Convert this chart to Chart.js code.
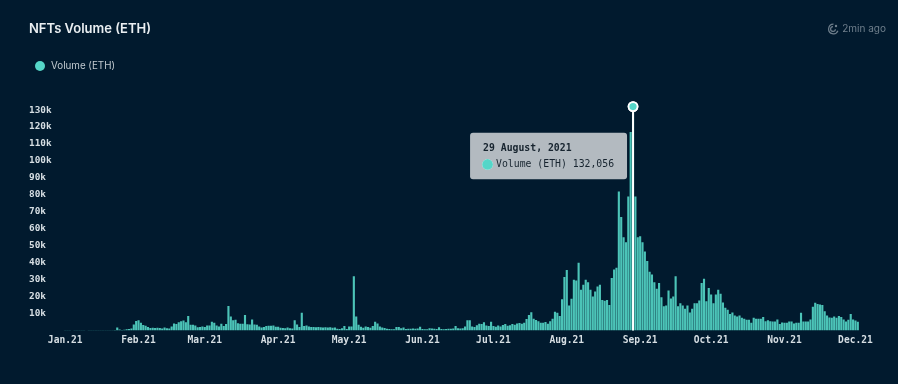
<!DOCTYPE html>
<html>
<head>
<meta charset="utf-8">
<title>NFTs Volume (ETH)</title>
<script src="https://cdn.jsdelivr.net/npm/chart.js@4"></script>
<style>
    html, body { margin: 0; padding: 0; width: 898px; height: 384px; overflow: hidden; background: #011a2e; }
    body { position: relative; font-family: Inter, sans-serif; }
    #chart { position: absolute; left: 0; top: 0; }
    .title { position: absolute; left: 29px; top: 20px; font-size: 13px; font-weight: 600; line-height: 17px; color: #e9eef1; }
    .updated { position: absolute; right: 12px; top: 21px; font-size: 10px; line-height: 15px; color: #6f7f8c; }
    .updated svg { position: absolute; left: -15px; top: 2px; }
    .legend { position: absolute; left: 35px; top: 59px; font-size: 9.8px; line-height: 13px; color: #c0c9cf; padding-left: 16px; }
    .legend i { position: absolute; left: 0; top: 1.5px; width: 10px; height: 10px; border-radius: 50%; background: #55d6c8; }
</style>
</head>
<body>
<canvas id="chart" width="898" height="384"></canvas>
<div class="title">NFTs Volume (ETH)</div>
<div class="updated">
    <svg width="12" height="12" viewBox="0 0 12 12" fill="none" stroke="#6f7f8c" stroke-width="1.2"><path d="M6.5 1.2a4.8 4.8 0 1 0 4.4 6.6"/><path d="M6 3.6a2.4 2.4 0 1 0 2.4 2.6"/><circle cx="9" cy="3" r="1.2" fill="#6f7f8c" stroke="none"/></svg>
    2min ago
</div>
<div class="legend"><i></i><span id="legendLabel"></span></div>

<script>
// Daily volume per month, in thousands of ETH
const janVolume = [0.1, 0.1, 0.1, 0, 0.1, 0.1, 0.1, 0.2, 0.2, 0, 0.1, 0.1, 0.1, 0.2, 0.1, 0.1, 0.1, 0.1, 0.1, 0.2, 0.1, 0.3, 1.7, 0.6, 0.3, 0.4, 0.8, 0.9, 1.2, 3.5, 5.6];
const febVolume = [6.0, 4.6, 3.2, 2.8, 2.1, 1.5, 1.6, 1.5, 1.6, 1.5, 1.2, 1.7, 1.3, 1.2, 2.4, 4.1, 3.9, 4.8, 5.4, 5.9, 4.9, 8.5, 3.4, 3.4, 2.9, 1.9, 2.0, 2.4];
const marVolume = [2.0, 2.9, 3.0, 5.2, 4.6, 3.0, 2.4, 4.0, 2.6, 3.8, 14.5, 8.2, 6.0, 6.3, 4.3, 4.0, 4.0, 9.2, 3.7, 3.5, 6.5, 3.6, 3.4, 2.4, 1.8, 2.0, 2.6, 2.8, 2.8, 3.0, 2.2];
const aprVolume = [2.2, 1.6, 1.5, 1.4, 1.8, 1.4, 1.2, 6.0, 3.5, 2.0, 10.5, 2.6, 2.9, 2.4, 2.1, 2.0, 1.9, 2.1, 1.9, 1.8, 1.9, 1.8, 1.9, 1.6, 1.7, 1.0, 0.9, 1.4, 2.6, 0.9];
const mayVolume = [2.4, 2.4, 32, 8.2, 3.4, 2.2, 1.6, 2.4, 2.0, 1.6, 2.6, 5.2, 4.2, 2.4, 1.8, 1.5, 1.0, 0.9, 0.7, 0.7, 2.0, 2.0, 1.4, 1.7, 0.9, 1.0, 1.1, 1.2, 1.1, 1.2, 2.2];
const junVolume = [0.9, 0.8, 0.8, 1.3, 1.2, 1.0, 0.9, 1.9, 0.9, 0.8, 0.9, 1.1, 1.0, 1.2, 2.6, 1.3, 1.2, 1.4, 2.4, 6.0, 6.0, 2.4, 2.0, 3.1, 4.0, 3.8, 4.8, 3.0, 2.6, 5.2];
const julVolume = [2.6, 2.2, 3.0, 2.4, 3.2, 3.8, 2.8, 3.1, 3.8, 3.4, 4.2, 4.4, 4.0, 4.6, 6.8, 9.2, 10.8, 7.0, 6.2, 5.5, 4.6, 4.5, 5.0, 4.0, 5.5, 7.0, 11, 10.5, 8.5, 18.5, 31.6];
const augVolume = [35.7, 14.7, 18.7, 30, 29.5, 40, 24, 27, 30, 28.5, 24, 20, 23, 26, 27, 18, 17.5, 18, 15, 31, 36, 37, 82, 67, 55, 52, 79, 117, 132.056, 79, 55];
const sepVolume = [55.6, 52, 46.6, 41, 34.6, 33, 28.5, 24.6, 28, 19.6, 14.3, 14.7, 23.6, 18.9, 20, 32, 14.3, 16, 14.7, 12.8, 14.7, 10.6, 12.8, 16, 16, 17.7, 28, 30.5, 17.3, 25];
const octVolume = [21.2, 16.1, 21.2, 24, 21.6, 16.5, 13.4, 12.2, 9.8, 10.6, 8.8, 8.3, 8.8, 7.5, 6.9, 6.3, 6.3, 4.5, 7.5, 6.9, 6.9, 6.9, 8.0, 5.5, 6.1, 5.5, 5.3, 5.3, 6.5, 3.9, 4.7];
const novVolume = [4.5, 4.5, 5.3, 5.3, 4.1, 4.5, 4.5, 10.4, 5.3, 5.3, 5.3, 6.5, 14, 16.3, 15.7, 15.3, 15, 11.4, 8.8, 7.7, 7.5, 8.3, 7.5, 8.6, 8.0, 6.5, 5.3, 6.3, 9.8, 6.5];
const decVolume = [5.9, 5.1];

const monthNames = ['January', 'February', 'March', 'April', 'May', 'June', 'July', 'August', 'September', 'October', 'November', 'December'];
const monthTicks = ['Jan.21', 'Feb.21', 'Mar.21', 'Apr.21', 'May.21', 'Jun.21', 'Jul.21', 'Aug.21', 'Sep.21', 'Oct.21', 'Nov.21', 'Dec.21'];
const monthVolumes = [janVolume, febVolume, marVolume, aprVolume, mayVolume, junVolume, julVolume, augVolume, sepVolume, octVolume, novVolume, decVolume];

const seriesLabel = 'Volume (ETH)';
const tealColor = '#55d6c8';

document.addEventListener("DOMContentLoaded", function () {
    // One category per day, one tick label on the first day of each month
    const categories = [];
    const tickByIndex = {};
    monthVolumes.forEach((days, m) => {
        tickByIndex[categories.length] = monthTicks[m];
        days.forEach((v, d) => categories.push(`${d + 1} ${monthNames[m]}, 2021`));
    });

    const volume = monthVolumes.flat();
    const peakIndex = volume.indexOf(Math.max(...volume));
    const peakMarker = volume.map((v, i) => (i === peakIndex ? v : null));

    document.getElementById('legendLabel').textContent = seriesLabel;

    // White line from the hovered point down to the axis
    const crosshair = {
        id: 'crosshair',
        afterDatasetsDraw(chart) {
            const { ctx, scales } = chart;
            const x = scales.x.getPixelForValue(peakIndex);
            ctx.save();
            ctx.strokeStyle = '#ffffff';
            ctx.lineWidth = 2;
            ctx.beginPath();
            ctx.moveTo(x, scales.y.getPixelForValue(volume[peakIndex]));
            ctx.lineTo(x, scales.y.getPixelForValue(0));
            ctx.stroke();
            ctx.restore();
            // marker goes back on top of the line
            chart.getDatasetMeta(1).data[peakIndex].draw(ctx);
        },
    };

    // Box sits left of the peak, a little below it
    Chart.Tooltip.positioners.besidePeak = function () {
        const { scales } = this.chart;
        return {
            x: scales.x.getPixelForValue(peakIndex) - 4,
            y: scales.y.getPixelForValue(volume[peakIndex]) + 49.5,
        };
    };

    const chart = new Chart(document.getElementById('chart'), {
        data: {
            labels: categories,
            datasets: [
                {
                    type: 'bar',
                    label: seriesLabel,
                    data: volume,
                    backgroundColor: '#4cc4b8',
                    hoverBackgroundColor: '#4cc4b8',
                    barPercentage: 0.9,
                    categoryPercentage: 1,
                    order: 2,
                },
                {
                    type: 'line',
                    label: 'Peak',
                    data: peakMarker,
                    showLine: false,
                    pointRadius: 4.5,
                    pointBackgroundColor: tealColor,
                    pointBorderColor: '#ffffff',
                    pointBorderWidth: 1.8,
                    order: 1,
                },
            ],
        },
        options: {
            responsive: false,
            animation: false,
            events: [],
            layout: { padding: { left: 29, right: 39, top: 93.1, bottom: 0 } },
            scales: {
                x: {
                    grid: { display: false, drawTicks: false },
                    border: { display: false },
                    afterFit(scale) { scale.height = 53.5; },
                    ticks: {
                        autoSkip: false,
                        maxRotation: 0,
                        padding: 4,
                        color: '#d6dee3',
                        font: { family: 'DejaVu Sans Mono', size: 9.6, weight: 'bold' },
                        callback: (value, index) => tickByIndex[index] || null,
                    },
                },
                y: {
                    min: 0,
                    max: 140,
                    grid: { display: false, drawTicks: false },
                    border: { display: false },
                    afterFit(scale) { scale.width = 35; },
                    ticks: {
                        stepSize: 10,
                        padding: 0,
                        crossAlign: 'far',
                        color: '#d6dee3',
                        font: { family: 'DejaVu Sans Mono', size: 9.4, weight: 'bold' },
                        callback: (value) => (value > 0 && value < 140 ? `${value}k` : null),
                    },
                },
            },
            plugins: {
                legend: { display: false },
                tooltip: {
                    position: 'besidePeak',
                    xAlign: 'right',
                    yAlign: 'center',
                    caretSize: 0,
                    backgroundColor: 'rgba(255,255,255,0.7)',
                    titleColor: '#17242f',
                    bodyColor: '#17242f',
                    titleFont: { family: 'DejaVu Sans Mono', size: 9.8 },
                    bodyFont: { family: 'DejaVu Sans Mono', size: 9.8 },
                    titleMarginBottom: 4,
                    padding: { left: 13, right: 13, top: 10, bottom: 9 },
                    cornerRadius: 3,
                    usePointStyle: true,
                    boxWidth: 9,
                    boxHeight: 9,
                    boxPadding: 2,
                    filter: (item) => item.datasetIndex === 0,
                    callbacks: {
                        label: (item) => `${seriesLabel} ${Math.round(item.raw * 1000).toLocaleString('en-US')}`,
                        labelPointStyle: () => ({ pointStyle: 'circle', rotation: 0 }),
                        labelColor: () => ({ borderColor: tealColor, backgroundColor: tealColor, borderWidth: 0 }),
                    },
                },
            },
        },
        plugins: [crosshair],
    });

    chart.tooltip.setActiveElements([{ datasetIndex: 0, index: peakIndex }], { x: 0, y: 0 });
    chart.update();
});
</script>
</body>
</html>
